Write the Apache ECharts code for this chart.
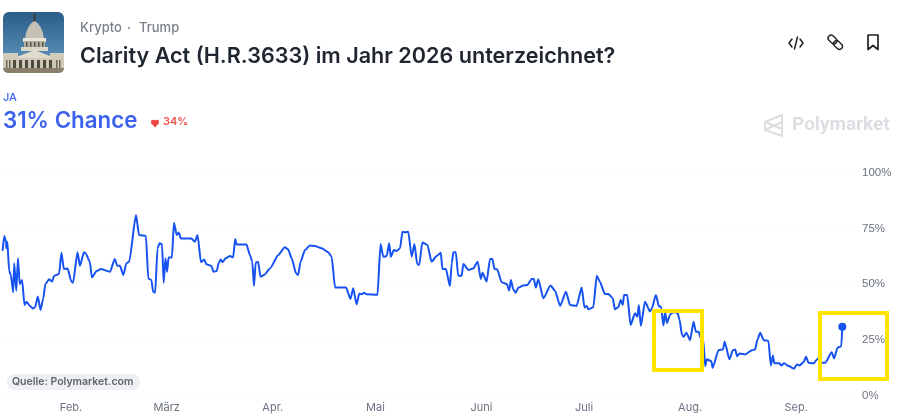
<!DOCTYPE html>
<html>
<head>
<meta charset="utf-8">
<style>
  html, body { margin: 0; padding: 0; background: #fff; }
  #chart { width: 900px; height: 420px; }
</style>
<script src="https://cdn.jsdelivr.net/npm/echarts@6/dist/echarts.min.js"></script>
</head>
<body>
<div id="chart"></div>
<script>
// day of year 2026
const days = [12.0,12.5,13.0,13.1,13.4,13.9,14.4,15.1,15.4,16.0,16.5,17.0,17.7,18.4,19.0,20.0,20.8,21.5,22.3,23.1,23.9,24.5,25.6,26.5,27.0,28.5,29.2,29.9,31.0,32.1,32.6,33.9,34.6,35.8,36.3,37.5,38.1,39.5,40.7,43.4,44.8,45.5,46.3,47.3,48.2,49.0,51.0,51.9,53.9,54.6,55.5,56.0,56.6,57.3,57.9,58.6,59.1,59.6,60.1,60.5,61.5,62.1,62.9,63.5,64.1,67.2,68.2,69.0,70.0,70.9,71.6,73.1,73.6,74.6,75.2,75.8,76.3,77.2,78.5,79.4,80.0,80.4,83.3,84.3,85.0,85.5,86.0,86.7,87.4,88.4,90.2,92.6,94.5,95.5,96.5,97.8,98.4,99.1,100.4,101.8,103.3,105.3,107.2,108.2,109.2,112.4,113.7,114.5,115.5,116.3,117.0,117.7,118.4,121.6,122.5,123.3,124.3,125.0,125.5,126.4,127.2,128.2,128.9,129.6,130.6,131.6,132.4,133.2,133.8,134.7,136.2,137.4,138.9,140.1,140.6,141.6,142.8,143.3,143.8,144.5,145.2,146.2,146.7,148.2,149.6,150.9,151.8,152.3,153.5,154.5,155.2,155.8,156.6,157.9,159.4,160.1,160.6,161.3,162.0,162.8,164.2,165.4,166.7,167.3,167.9,168.6,170.1,172.2,173.5,175.0,176.7,177.9,179.8,181.3,182.1,182.8,183.2,184.7,185.7,186.6,188.1,189.1,190.4,191.0,192.0,192.7,193.3,193.7,194.6,195.6,196.9,197.6,198.0,198.6,199.8,201.3,201.8,203.0,203.9,204.5,205.2,205.7,206.2,207.2,208.1,209.3,209.9,210.6,211.1,211.9,213.0,214.0,214.7,215.5,216.1,216.9,217.4,217.9,219.2,219.6,221.3,222.6,223.1,224.5,225.5,226.2,226.7,227.4,229.1,231.1,232.0,232.7,233.5,234.5,235.9,236.6,237.2,237.6,239.1,239.6,240.5,241.8,243.4,244.2,245.0,246.2,246.9,247.6,249.1,250.3,251.5,252.5,254.4,255.1,256.1,257.2,257.5];
const chance = [65.0,71.6,69.0,66.1,69.0,56.1,54.1,46.4,59.4,47.1,61.6,50.1,51.9,40.7,42.2,40.3,39.2,39.7,44.5,38.5,43.7,50.1,52.2,51.2,53.7,54.6,64.1,56.8,57.0,51.2,50.7,64.3,58.3,64.3,63.8,60.1,53.1,55.9,56.8,55.6,61.3,58.3,58.3,54.1,59.4,60.1,81.0,72.0,71.6,52.6,51.9,46.7,46.2,66.1,68.3,68.0,50.7,61.6,55.6,62.0,62.0,77.5,72.0,73.2,70.5,70.5,69.0,72.0,59.8,61.1,58.9,58.2,55.6,55.9,59.6,61.1,59.8,61.6,62.6,62.0,70.2,67.8,67.8,63.1,60.1,49.2,59.7,60.1,53.4,54.1,57.1,63.1,66.5,65.6,61.6,54.9,54.1,60.1,65.3,67.3,67.1,66.1,64.3,62.3,48.5,48.5,43.4,48.2,41.0,45.9,45.5,46.2,45.5,45.3,68.0,62.3,62.6,68.3,62.3,65.3,64.9,66.1,73.5,73.2,73.5,62.3,68.0,59.1,58.6,68.7,67.6,60.1,62.6,64.1,56.8,56.8,49.2,59.4,64.3,64.3,53.8,53.8,59.1,56.4,57.1,60.1,52.4,55.2,51.2,61.3,61.3,56.8,56.7,50.9,50.1,47.2,51.9,47.7,46.2,48.5,49.4,49.7,52.4,52.4,48.5,52.2,43.7,49.4,47.1,40.3,46.7,40.7,40.3,48.5,39.7,40.3,38.8,39.7,53.8,51.2,45.6,45.6,43.7,38.8,39.7,43.0,40.7,45.2,45.2,31.8,37.0,35.5,40.7,31.3,42.2,37.8,39.2,45.2,40.0,40.0,31.5,37.7,32.7,36.5,37.5,37.2,34.2,27.5,26.5,28.3,25.0,33.2,28.7,28.7,26.0,24.6,13.4,16.4,15.6,12.6,20.5,20.8,24.3,16.4,20.5,20.8,17.8,19.0,18.6,20.5,20.8,25.3,28.3,25.0,24.6,13.7,18.1,14.6,14.6,13.7,14.6,13.4,12.2,14.1,13.7,15.2,17.6,14.9,14.6,16.7,14.9,14.9,19.6,16.8,21.6,22.3,31.0];
const monthDays = [32,60,91,121,152,182,213,244];
const monthLabels = ['Feb.','März','Apr.','Mai','Juni','Juli','Aug.','Sep.'];
const yTicks = [0,25,50,75,100];

const chart = echarts.init(document.getElementById('chart'), null, { renderer: 'canvas' });
const font = 'Inter, "Noto Sans", sans-serif';
const lineData = days.map((d, i) => [d, chance[i]]);
const blue = '#1652f0';

function txt(x, y, text, size, weight, fill, extra) {
  return { type: 'text', z: 20, style: Object.assign({ x, y, text, fontFamily: font, fontSize: size, fontWeight: weight, fill, textVerticalAlign: 'middle' }, extra || {}) };
}
function stroke(points, color, lw) {
  return { type: 'polyline', z: 20, shape: { points }, style: { fill: 'none', stroke: color, lineWidth: lw, lineJoin: 'round', lineCap: 'round' } };
}
function box(x, y, w, h) {
  return { type: 'rect', z: 50, shape: { x, y, width: w, height: h }, style: { fill: 'none', stroke: '#ffe400', lineWidth: 4 } };
}
function poly(points, fill) {
  return { type: 'polygon', z: 21, shape: { points }, style: { fill } };
}
function rect(x, y, w, h, fill, r) {
  return { type: 'rect', z: 21, shape: { x, y, width: w, height: h, r: r || 0 }, style: { fill } };
}
function linkPart(x, y) {
  return { type: 'rect', z: 20, x, y, rotation: -Math.PI / 4, shape: { x: -5, y: -3, width: 10, height: 6, r: 3 }, style: { fill: 'none', stroke: '#222', lineWidth: 1.4 } };
}

// little capitol picture
const columns = [];
[[13, 8], [19, 8], [25, 8], [31, 8], [37, 8], [43, 8], [49, 8]].forEach(c => columns.push(rect(c[0], 60, 3, c[1], '#4c4940')));
[6, 9, 56, 59].forEach(x => columns.push(rect(x, 60, 1.5, 8, '#6d675a')));
[26, 30, 34, 38, 42].forEach(x => columns.push(rect(x, 42, 1.5, 5, '#55524a')));

const capitol = [
  { type: 'rect', z: 20, shape: { x: 3, y: 12, width: 61, height: 61, r: 6 },
    style: { fill: new echarts.graphic.LinearGradient(0, 0, 0, 1, [
      { offset: 0, color: '#2a5c88' }, { offset: 0.7, color: '#558bb3' }, { offset: 1, color: '#9db8c8' }]) } },
  rect(33.5, 14, 2, 8, '#3a3a38'),
  poly([[25, 40], [26, 33], [28.5, 27], [31.5, 23], [34.5, 21], [37.5, 23], [40.5, 27], [43, 33], [44, 40]], '#c4c1b4'),
  rect(23, 38, 23, 4, '#e8e4d6'),
  rect(24, 41, 21, 7, '#b5b1a2'),
  rect(21, 47, 27, 4, '#dcd8c8'),
  poly([[14, 58], [34.5, 50], [55, 58]], '#e0dbca'),
  rect(3, 58, 61, 11, '#cfc8b6'),
  rect(3, 53, 15, 6, '#d2ccbb'),
  rect(50, 53, 14, 6, '#d2ccbb'),
  ...columns,
  { type: 'rect', z: 21, shape: { x: 3, y: 68, width: 61, height: 5, r: [0, 0, 6, 6] }, style: { fill: '#8a7f6c' } }
];

const logo = [
  { type: 'polygon', z: 5, shape: { points: [[765, 122], [782, 115], [782, 136], [765, 130]] }, style: { fill: 'none', stroke: '#dcdee2', lineWidth: 2 } },
  stroke([[765, 122], [782, 129]], '#dcdee2', 2),
  stroke([[765, 130], [782, 122]], '#dcdee2', 2),
  txt(792, 125, 'Polymarket', 19, 700, '#dcdee2', { fontFamily: 'Roboto, Inter, sans-serif' })
];

const option = {
  animation: false,
  backgroundColor: '#fff',
  grid: { left: 0, right: 44, top: 172.5, bottom: 24 },
  xAxis: {
    type: 'value',
    min: 11.24,
    max: 261.5,
    splitLine: { show: false },
    axisLine: { show: false },
    axisTick: { show: false },
    axisLabel: {
      customValues: monthDays,
      formatter: v => monthLabels[monthDays.indexOf(v)],
      color: '#6b7280',
      fontSize: 11,
      fontFamily: font,
      margin: 6,
      hideOverlap: false,
      showMinLabel: true,
      showMaxLabel: true
    }
  },
  yAxis: {
    type: 'value',
    position: 'right',
    min: 0,
    max: 100,
    interval: 25,
    axisLine: { show: false },
    axisTick: { show: false },
    axisLabel: {
      customValues: yTicks,
      formatter: '{value}%',
      color: '#6b7280',
      fontSize: 11.5,
      fontFamily: 'Liberation Sans, Arial, sans-serif',
      margin: 6,
      align: 'left'
    },
    splitLine: { lineStyle: { color: '#e6e8eb', type: [1, 3], width: 1 } }
  },
  series: [
    {
      name: 'JA',
      type: 'line',
      data: lineData,
      showSymbol: false,
      smooth: 0.2,
      smoothMonotone: 'x',
      z: 3,
      lineStyle: { color: blue, width: 2, join: 'round' }
    },
    {
      name: 'aktuell',
      type: 'scatter',
      data: lineData.slice(-1),
      symbolSize: 8,
      z: 4,
      itemStyle: { color: blue, opacity: 1 }
    }
  ],
  graphic: { elements: [
    ...capitol,
    txt(80, 28, 'Krypto', 13, 500, '#7a808a'),
    txt(127, 28, '·', 13, 500, '#7a808a'),
    txt(139, 28, 'Trump', 13, 500, '#7a808a'),
    txt(80, 56, 'Clarity Act (H.R.3633) im Jahr 2026 unterzeichnet?', 21.6, 600, '#1f2630'),
    stroke([[792, 39], [789, 43], [792, 47]], '#222', 1.5),
    stroke([[800, 39], [803, 43], [800, 47]], '#222', 1.5),
    stroke([[797.5, 37], [794.5, 49]], '#222', 1.5),
    linkPart(832.5, 39.5),
    linkPart(838, 45),
    { type: 'polygon', z: 20, shape: { points: [[868, 35], [878, 35], [878, 49.5], [873, 45.5], [868, 49.5]] }, style: { fill: 'none', stroke: '#222', lineWidth: 1.7, lineJoin: 'round' } },
    txt(3, 98, 'JA', 11, 500, '#3d63ee'),
    txt(3, 121, '31% Chance', 22.3, 600, '#3d63ee'),
    { type: 'circle', z: 20, shape: { cx: 153.2, cy: 122, r: 2.3 }, style: { fill: '#ef4444' } },
    { type: 'circle', z: 20, shape: { cx: 156.8, cy: 122, r: 2.3 }, style: { fill: '#ef4444' } },
    { type: 'polygon', z: 20, shape: { points: [[151, 123], [159, 123], [155, 127.5]] }, style: { fill: '#ef4444' } },
    txt(163, 122, '34%', 11, 600, '#ef5350', { letterSpacing: 1.3 }),
    ...logo,
    { type: 'rect', z: 20, shape: { x: 7, y: 374, width: 133, height: 16, r: 8 }, style: { fill: '#eef0f3' } },
    txt(12, 382, 'Quelle: Polymarket.com', 10.5, 600, '#5f6670'),
    box(654, 311, 48, 59),
    box(820, 313, 67, 66)
  ] }
};
chart.setOption(option);
</script>
</body>
</html>
